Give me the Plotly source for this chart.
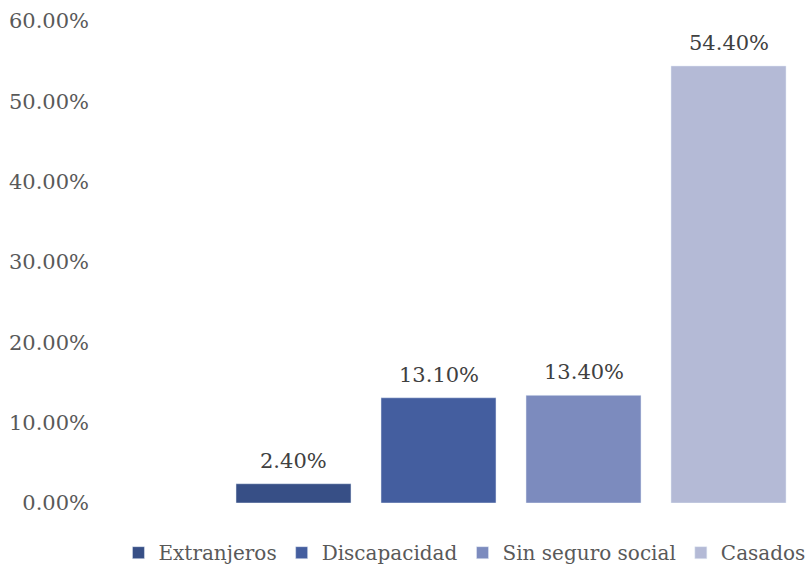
import plotly.graph_objects as go

series = ["Extranjeros", "Discapacidad", "Sin seguro social", "Casados"]
values = [2.40, 13.10, 13.40, 54.40]
colors = ["#374F86", "#445E9F", "#7C8BBE", "#B4BAD6"]
tick_vals = [0, 10, 20, 30, 40, 50, 60]
tick_text = ["%.2f%%" % v for v in tick_vals]

FONT = "DejaVu Serif"
fig = go.Figure()
for i, (name, v, c) in enumerate(zip(series, values, colors)):
    fig.add_trace(go.Bar(x=[i + 1], y=[v], name=name, marker_color=c,
                         width=0.793, hoverinfo="skip"))
    fig.add_annotation(x=i + 1, y=v, text="%.2f%%" % v, showarrow=False,
                       yanchor="bottom", yshift=9,
                       font=dict(family=FONT, size=21, color="#404040"))

L, R = 90, 10
x0 = (L - 148.5) / 145
x1 = (812 - R - 148.5) / 145
fig.update_layout(
    width=812, height=568,
    margin=dict(l=L, r=R, t=21, b=65, autoexpand=False),
    paper_bgcolor="white", plot_bgcolor="white",
    barmode="overlay",
    showlegend=True,
    legend=dict(orientation="h", xref="container", yref="container",
                x=0.572, xanchor="center", y=0.027, yanchor="middle",
                font=dict(family=FONT, size=20, color="#595959"),
                itemwidth=30, traceorder="normal"),
    xaxis=dict(range=[x0, x1], showticklabels=False, showgrid=False,
               zeroline=False, showline=False, ticks=""),
    yaxis=dict(range=[0, 60], tickvals=tick_vals, ticktext=tick_text,
               showgrid=False, zeroline=False, showline=False,
               tickfont=dict(family=FONT, size=21, color="#595959")),
)
fig.write_html("out.html")
